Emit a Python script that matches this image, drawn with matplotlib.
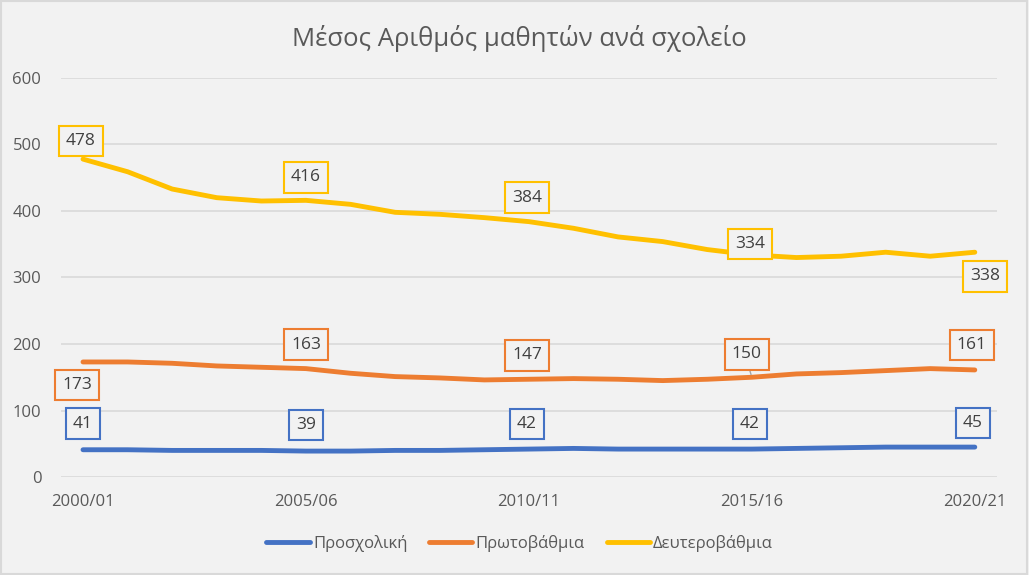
import matplotlib.pyplot as plt
from matplotlib.patches import Rectangle

plt.rcParams['font.family'] = ['Open Sans', 'DejaVu Sans']

years = ['2000/01', '2001/02', '2002/03', '2003/04', '2004/05', '2005/06', '2006/07',
         '2007/08', '2008/09', '2009/10', '2010/11', '2011/12', '2012/13', '2013/14',
         '2014/15', '2015/16', '2016/17', '2017/18', '2018/19', '2019/20', '2020/21']
prosxoliki = [41, 41, 40, 40, 40, 39, 39, 40, 40, 41, 42, 43, 42, 42, 42, 42, 43, 44, 45, 45, 45]
protovathmia = [173, 173, 171, 167, 165, 163, 156, 151, 149, 146, 147, 148, 147, 145, 147, 150,
                155, 157, 160, 163, 161]
defterovathmia = [478, 459, 433, 420, 415, 416, 410, 398, 395, 390, 384, 374, 361, 354, 342, 334,
                  330, 332, 338, 332, 338]
series_names = ['Προσχολική', 'Πρωτοβάθμια', 'Δευτεροβάθμια']
colors = ['#4472C4', '#ED7D31', '#FFC000']

# which points get a label, and the label offset in pixels (dx, dy)
label_idx = [0, 5, 10, 15, 20]
offsets = [
    [(0, 26), (0, 26), (-2, 25), (-2, 25), (-2, 24)],
    [(-6, -23), (0, 24), (-2, 24), (-5, 23), (-3, 25)],
    [(-2, 18), (0, 23), (-2, 24), (-2, 11), (10, -24)],
]

fig = plt.figure(figsize=(10.29, 5.75), dpi=100, facecolor='#f2f2f2')
fig.patches.append(Rectangle((0.001, 0.002), 0.997, 0.996, transform=fig.transFigure,
                             fill=False, edgecolor='#d9d9d9', linewidth=1.5))
ax = fig.add_axes([0.059, 0.1704, 0.910, 0.694])
ax.set_facecolor('#f2f2f2')

x = list(range(len(years)))
all_data = [prosxoliki, protovathmia, defterovathmia]
for data, name, c, offs in zip(all_data, series_names, colors, offsets):
    ax.plot(x, data, color=c, linewidth=3.5, label=name, solid_capstyle='round', zorder=3)
    for i, (dx, dy) in zip(label_idx, offs):
        ax.annotate(str(data[i]), (i, data[i]), xytext=(dx, dy), textcoords='offset pixels',
                    ha='center', va='center', fontsize=12.5, color='#404040', zorder=4,
                    bbox=dict(boxstyle='square,pad=0.42', fc='#f2f2f2', ec=c, lw=1.5))

# leader line for the 2015/16 orange label
ax.annotate('', (15, protovathmia[15]), xytext=(-3, 10), textcoords='offset pixels',
            arrowprops=dict(arrowstyle='-', color='#a6a6a6', lw=1))

ax.set_xlim(-0.5, 20.5)
ax.set_ylim(0, 600)
ax.set_yticks(range(0, 601, 100))
ax.set_xticks(x[::5])
ax.set_xticklabels(years[::5])
ax.tick_params(length=0, colors='#595959', labelsize=12)
ax.tick_params(axis='x', pad=12)
ax.tick_params(axis='y', pad=14)
ax.grid(axis='y', color='#d9d9d9', linewidth=1.2)
ax.set_axisbelow(True)
for s in ax.spines.values():
    s.set_visible(False)

fig.text(0.505, 0.933, 'Μέσος Αριθμός μαθητών ανά σχολείο', ha='center', va='center',
         fontsize=18.5, color='#595959')
fig.legend(loc='center', bbox_to_anchor=(0.505, 0.055), ncol=3, frameon=False,
           fontsize=12, handlelength=2.6, handletextpad=0.2, columnspacing=1.3,
           labelcolor='#595959')

fig.savefig('out.png', dpi=100, facecolor=fig.get_facecolor())
